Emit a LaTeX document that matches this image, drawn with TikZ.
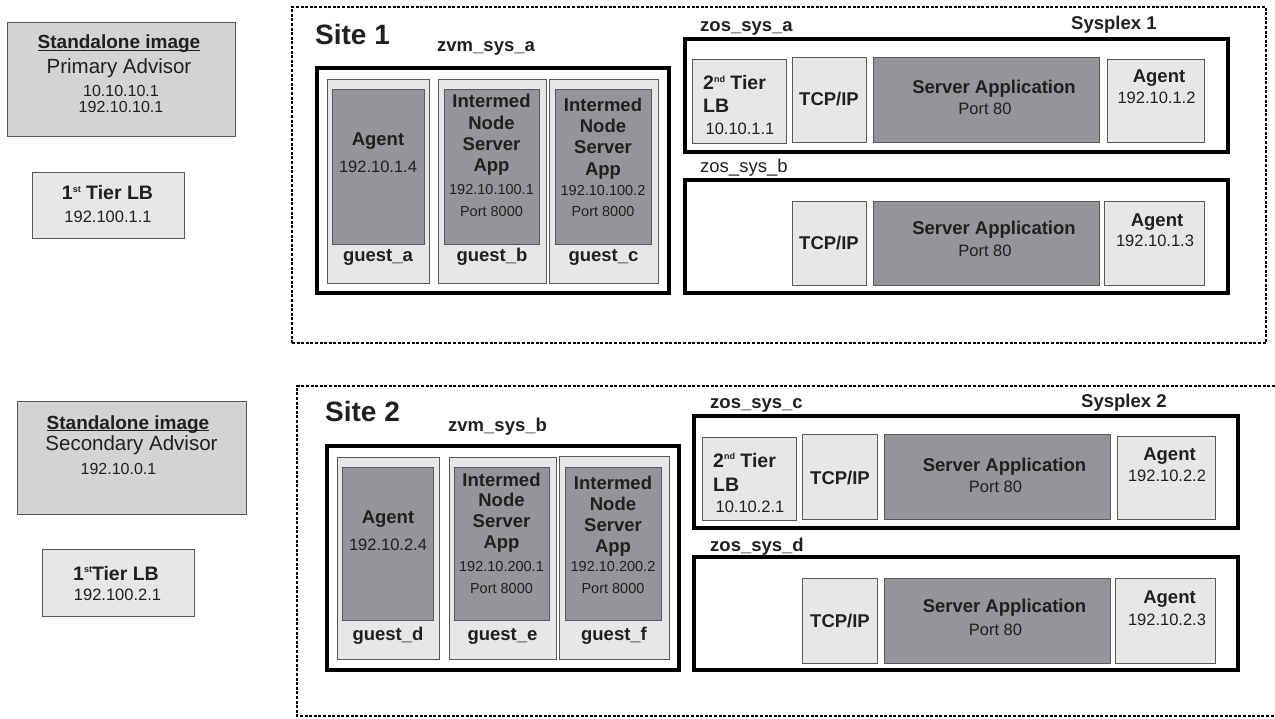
\documentclass[tikz,border=0pt]{standalone}
\usepackage{fontspec}
\setmainfont{Liberation Sans}
\usepackage{tikz}
\definecolor{ink}{HTML}{231F20}
\definecolor{edgegray}{HTML}{58595B}
\definecolor{palefill}{HTML}{E6E7E8}
\definecolor{midfill}{HTML}{D1D3D4}
\definecolor{darkfill}{HTML}{939598}
\tikzset{
  advbox/.style={draw=edgegray,fill=midfill,line width=1pt,inner sep=0pt},
  palebox/.style={draw=edgegray,fill=palefill,line width=0.9pt,inner sep=0pt},
  darkbox/.style={draw=edgegray,fill=darkfill,line width=0.9pt,inner sep=0pt},
  sysbox/.style={draw=black,fill=white,line width=3.4pt,inner sep=0pt},
  sitebox/.style={draw=black,line width=1.3pt,dash pattern=on 3pt off 1.6pt},
  txt/.style={inner sep=0pt,text=ink,anchor=base},
  bodybold/.style={txt,font=\fontsize{18.5}{20}\selectfont\bfseries},
  tierbold/.style={txt,font=\fontsize{19.5}{21}\selectfont\bfseries},
  ipfont/.style={txt,font=\fontsize{16.5}{18}\selectfont},
  smallip/.style={txt,font=\fontsize{14.5}{16}\selectfont},
  syslbl/.style={txt,anchor=base west,font=\fontsize{18.5}{20}\selectfont\bfseries},
  sitelbl/.style={txt,anchor=base west,font=\fontsize{28}{30}\selectfont\bfseries}
}
% box from its two corners (pixel units)
\newcommand{\drawbox}[6]{\node[#2,minimum width={#5-#3},minimum height={#6-#4}] (#1) at ({(#3+#5)/2},{(#4+#6)/2}) {};}
\newcommand{\ulword}[1]{\setbox0\hbox{#1}\rlap{\rule[-2.4pt]{\wd0}{1.2pt}}\box0}
\newcommand{\ordsup}[1]{\raisebox{7.5pt}{\fontsize{9}{10}\selectfont #1}}

\begin{document}
\begin{tikzpicture}[x=1pt,y=-1pt]
\useasboundingbox (0,0) rectangle (1275,719);

% ---- advisors and first tier
\drawbox{adv1}{advbox}{7}{23}{235}{137}
\drawbox{lb1}{palebox}{32}{172}{184}{238}
\drawbox{adv2}{advbox}{17}{401}{246}{514}
\drawbox{lb2}{palebox}{42}{549}{194}{616}

\node[txt,font=\fontsize{19}{20}\selectfont\bfseries] (adv1a) at (119,48.5) {\ulword{Standalone image}};
\node[txt,font=\fontsize{20.5}{22}\selectfont] (adv1b) at (119,74) {Primary Advisor};
\node[txt,font=\fontsize{16}{18}\selectfont] (adv1c) at (121,97) {10.10.10.1};
\node[txt,font=\fontsize{16}{18}\selectfont] (adv1d) at (121,113) {192.10.10.1};
\node[tierbold] (lb1a) at (107.5,200) {1\ordsup{st} Tier LB};
\node[ipfont] (lb1b) at (108,222.7) {192.100.1.1};

\node[txt,font=\fontsize{19}{20}\selectfont\bfseries] (adv2a) at (128,429) {\ulword{Standalone image}};
\node[txt,font=\fontsize{20.5}{22}\selectfont] (adv2b) at (131.5,450.7) {Secondary Advisor};
\node[txt,font=\fontsize{16}{18}\selectfont] (adv2c) at (118.5,474) {192.10.0.1};
\node[tierbold] (lb2a) at (116,580) {1\ordsup{st}Tier LB};
\node[ipfont] (lb2b) at (117.5,600) {192.100.2.1};

% ---- site 1
\drawbox{site1}{sitebox}{292}{7}{1266}{343}
\node[sitelbl] (site1lbl) at (315,45) {Site 1};
\node[syslbl] (zvm1lbl) at (437,52) {zvm\_sys\_a};
\drawbox{zvm1}{sysbox}{317}{68}{669}{293}
\drawbox{ga}{palebox}{327}{79}{429}{283}
\drawbox{gain}{darkbox}{332}{89}{424}{244}
\drawbox{gb}{palebox}{438}{79}{546}{283}
\drawbox{gbin}{darkbox}{444}{89}{539}{244}
\drawbox{gc}{palebox}{549}{79}{658}{283}
\drawbox{gcin}{darkbox}{555}{89}{651}{244}
\node[bodybold] (galbl) at (378,262) {guest\_a};
\node[bodybold] (gblbl) at (492,262) {guest\_b};
\node[bodybold] (gclbl) at (603.5,262) {guest\_c};
\node[bodybold] (gaagent) at (378,146) {Agent};
\node[ipfont] (gaip) at (378,173) {192.10.1.4};
\foreach \w [count=\k] in {Intermed,Node,Server,App}{
  \node[bodybold] (gbw\k) at (491.5,{108+21.3*(\k-1)}) {\w};
  \node[bodybold] (gcw\k) at (603,{111.5+21.2*(\k-1)}) {\w};
}
\node[smallip] (gbip) at (491.5,195) {192.10.100.1};
\node[smallip] (gbport) at (491.5,217) {Port 8000};
\node[smallip] (gcip) at (603,196) {192.10.100.2};
\node[smallip] (gcport) at (603,217) {Port 8000};

\node[syslbl] (zosalbl) at (700,32) {zos\_sys\_a};
\node[syslbl] (plex1) at (1071,30) {Sysplex 1};
\drawbox{zosa}{sysbox}{685}{39}{1228}{152}
\drawbox{tiera}{palebox}{692}{59}{786}{143}
\drawbox{tcpa}{palebox}{792}{57}{866}{142}
\drawbox{srva}{darkbox}{873}{57}{1099}{142}
\drawbox{agta}{palebox}{1107}{59}{1204}{142}
\node[tierbold,anchor=base west] (tiera1) at (703,90) {2\ordsup{nd} Tier};
\node[tierbold,anchor=base west] (tiera2) at (703,113) {LB};
\node[ipfont] (tieraip) at (740,135) {10.10.1.1};
\node[bodybold] (tcpalbl) at (829,106) {TCP/IP};
\node[bodybold] (srvalbl) at (994,94) {Server Application};
\node[ipfont] (srvaport) at (985,115) {Port 80};
\node[bodybold] (agtalbl) at (1159,83) {Agent};
\node[ipfont] (agtaip) at (1156.5,104) {192.10.1.2};

\node[syslbl,font=\fontsize{18.5}{20}\selectfont] (zosblbl) at (700,173) {zos\_sys\_b};
\drawbox{zosb}{sysbox}{685}{180}{1228}{293}
\drawbox{tcpb}{palebox}{792}{201}{866}{285}
\drawbox{srvb}{darkbox}{873}{201}{1099}{285}
\drawbox{agtb}{palebox}{1104}{201}{1204}{285}
\node[bodybold] (tcpblbl) at (829,250) {TCP/IP};
\node[bodybold] (srvblbl) at (994,235) {Server Application};
\node[ipfont] (srvbport) at (985,257) {Port 80};
\node[bodybold] (agtblbl) at (1157,227) {Agent};
\node[ipfont] (agtbip) at (1155,247) {192.10.1.3};

% ---- site 2
\coordinate (s2tr) at (1275,386);
\coordinate (s2tl) at (297,386);
\coordinate (s2bl) at (297,716);
\coordinate (s2br) at (1275,716);
\draw[sitebox] (s2tr) -- (s2tl) -- (s2bl) -- (s2br);
\node[sitelbl] (site2lbl) at (325,421) {Site 2};
\node[syslbl] (zvm2lbl) at (448,431) {zvm\_sys\_b};
\drawbox{zvm2}{sysbox}{327}{446}{679}{670}
\drawbox{gd}{palebox}{337}{457}{439}{659}
\drawbox{gdin}{darkbox}{342}{467}{433}{620}
\drawbox{ge}{palebox}{449}{457}{556}{659}
\drawbox{gein}{darkbox}{454}{467}{549}{620}
\drawbox{gf}{palebox}{559}{456}{669}{659}
\drawbox{gfin}{darkbox}{565}{467}{661}{620}
\node[bodybold] (gdlbl) at (388,640) {guest\_d};
\node[bodybold] (gelbl) at (502.5,640) {guest\_e};
\node[bodybold] (gflbl) at (614,640) {guest\_f};
\node[bodybold] (gdagent) at (388,523) {Agent};
\node[ipfont] (gdip) at (388,550) {192.10.2.4};
\foreach \w [count=\k] in {Intermed,Node,Server,App}{
  \node[bodybold] (gew\k) at (501.5,{486+20.8*(\k-1)}) {\w};
  \node[bodybold] (gfw\k) at (613,{489+21*(\k-1)}) {\w};
}
\node[smallip] (geip) at (501.5,571) {192.10.200.1};
\node[smallip] (geport) at (501.5,593) {Port 8000};
\node[smallip] (gfip) at (613,571) {192.10.200.2};
\node[smallip] (gfport) at (613,593) {Port 8000};

\node[syslbl] (zosclbl) at (710,409) {zos\_sys\_c};
\node[syslbl] (plex2) at (1081,407) {Sysplex 2};
\drawbox{zosc}{sysbox}{694}{416}{1238}{528}
\drawbox{tierc}{palebox}{702}{437}{796}{520}
\drawbox{tcpc}{palebox}{802}{434}{877}{519}
\drawbox{srvc}{darkbox}{884}{434}{1110}{519}
\drawbox{agtc}{palebox}{1117}{436}{1215}{519}
\node[tierbold,anchor=base west] (tierc1) at (713,467) {2\ordsup{nd} Tier};
\node[tierbold,anchor=base west] (tierc2) at (713,491) {LB};
\node[ipfont] (tiercip) at (750,512) {10.10.2.1};
\node[bodybold] (tcpclbl) at (840,484) {TCP/IP};
\node[bodybold] (srvclbl) at (1004.5,471) {Server Application};
\node[ipfont] (srvcport) at (995.5,492) {Port 80};
\node[bodybold] (agtclbl) at (1169.5,460) {Agent};
\node[ipfont] (agtcip) at (1167,481) {192.10.2.2};

\node[syslbl] (zosdlbl) at (710,551) {zos\_sys\_d};
\drawbox{zosd}{sysbox}{694}{557}{1238}{670}
\drawbox{tcpd}{palebox}{802}{578}{877}{663}
\drawbox{srvd}{darkbox}{884}{578}{1110}{663}
\drawbox{agtd}{palebox}{1115}{578}{1215}{663}
\node[bodybold] (tcpdlbl) at (840,627) {TCP/IP};
\node[bodybold] (srvdlbl) at (1004.5,612) {Server Application};
\node[ipfont] (srvdport) at (995.5,635) {Port 80};
\node[bodybold] (agtdlbl) at (1169.5,603) {Agent};
\node[ipfont] (agtdip) at (1167,625) {192.10.2.3};
\end{tikzpicture}
\end{document}
